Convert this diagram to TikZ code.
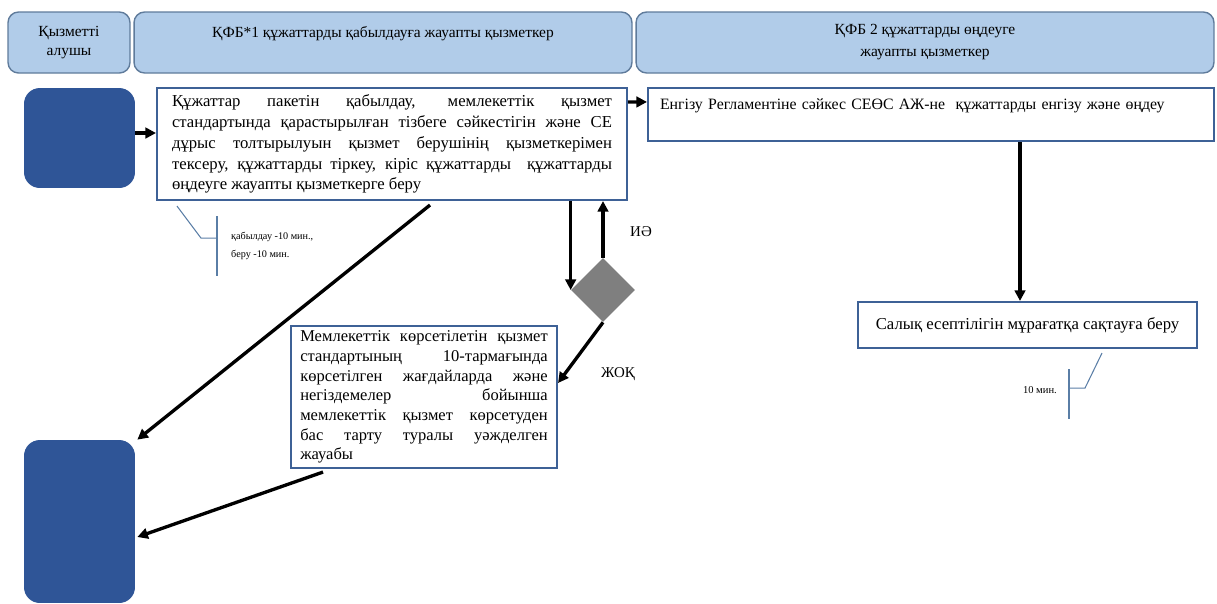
\documentclass[tikz,border=0pt]{standalone}
\usepackage{fontspec}
\setmainfont{Liberation Serif}
\usepackage{tikz}
\usetikzlibrary{positioning,arrows.meta,shapes.geometric}
\definecolor{lanefill}{HTML}{B1CCE9}
\definecolor{laneedge}{HTML}{5F7B9B}
\definecolor{termblue}{HTML}{2F5597}
\definecolor{procedge}{HTML}{3E6196}
\definecolor{noteline}{HTML}{5A7EA6}
\definecolor{decgray}{HTML}{7F7F7F}
\tikzset{
  lane/.style={draw=laneedge, fill=lanefill, rounded corners=6pt, line width=0.8pt, inner sep=0pt, align=center, font=\fontsize{8.8}{10.5}\selectfont},
  term/.style={fill=termblue, rounded corners=9pt, inner sep=0pt},
  proc/.style={draw=procedge, fill=white, line width=1.2pt, inner sep=0pt, font=\fontsize{9.5}{11.9}\selectfont},
  flow/.style={line width=1.9pt, -{Triangle[length=6pt,width=6pt]}},
  note/.style={draw=noteline, line width=0.6pt},
}
\begin{document}
\begin{tikzpicture}[x=0.02cm, y=-0.02cm]
        \useasboundingbox (0,0) rectangle (1217,603);
        \node[lane, minimum width=2.44cm, minimum height=1.22cm] (l1) at (69,42.5) {Қызметті\\алушы};
        \node[lane, minimum width=9.96cm, minimum height=1.22cm] (l2) at (383,42.5) {ҚФБ*1 құжаттарды қабылдауға жауапты қызметкер\\[2pt]\mbox{}};
        \node[lane, minimum width=11.56cm, minimum height=1.22cm, font=\fontsize{8.8}{12.5}\selectfont] (l3) at (925,42.5) {ҚФБ 2 құжаттарды өңдеуге\\жауапты қызметкер};
        \node[term, minimum width=2.22cm, minimum height=2cm] (start) at (79.5,138) {};
        \node[term, minimum width=2.22cm, minimum height=3.26cm] (stop) at (79.5,521.5) {};
        \node[proc, minimum width=9.4cm, minimum height=2.24cm, text width=8.8cm, align=justify] (recv) at (392,144) {\sloppy
          Құжаттар пакетін қабылдау, мемлекеттік қызмет\linebreak
          стандартында қарастырылған тізбеге сәйкестігін және СЕ\linebreak
          дұрыс толтырылуын қызмет берушінің қызметкерімен\linebreak
          тексеру, құжаттарды тіркеу, кіріс құжаттарды \ құжаттарды\linebreak
          өңдеуге жауапты қызметкерге беру};
        \node[proc, minimum width=11.32cm, minimum height=1.06cm, text width=10.84cm, align=left, font=\fontsize{9}{12}\selectfont] (enter) at (931,114.5) {Енгізу Регламентіне сәйкес СЕӨС АЖ-не \ құжаттарды енгізу және өңдеу\\\mbox{}};
        \node[proc, minimum width=6.78cm, minimum height=0.92cm] (archive) at (1027.5,325) {Салық есептілігін мұрағатқа сақтауға беру};
        \node[proc, minimum width=5.32cm, minimum height=2.84cm, text width=4.95cm, align=justify, font=\fontsize{9.4}{11.2}\selectfont] (refuse) at (424,397) {\sloppy
          Мемлекеттік көрсетілетін қызмет\linebreak
          стандартының 10-тармағында\linebreak
          көрсетілген жағдайларда және\linebreak
          негіздемелер бойынша\linebreak
          мемлекеттік қызмет көрсетуден\linebreak
          бас тарту туралы уәжделген\linebreak
          жауабы};
        \node[diamond, fill=decgray, minimum width=1.28cm, minimum height=1.28cm, inner sep=0pt] (dec) at (603,290) {};
        \node[font=\fontsize{8.5}{10}\selectfont] (yes) at (641,232) {ИӘ};
        \node[font=\fontsize{8.5}{10}\selectfont] (no) at (618,374) {ЖОҚ};
        \draw[flow] (start.east |- 0,133) -- (recv.west |- 0,133);
        \draw[flow] ([yshift=-0.3cm]recv.north east) -- ([yshift=-0.3cm]enter.north west);
        \draw[flow] (enter.south -| 1020,0) -- (archive.north -| 1020,0);
        \draw[flow] (recv.south -| dec.west) -- (dec.west);
        \draw[flow] (dec.north) -- (dec.north |- recv.south);
        \draw[flow] (dec.south) -- ([yshift=0.28cm]refuse.east);
        \draw[flow] ([shift={(0.76cm,-0.08cm)}]recv.south) -- ([xshift=0.04cm]stop.north east);
        \draw[flow] ([shift={(-2.02cm,-0.06cm)}]refuse.south) -- ([shift={(0.04cm,-0.31cm)}]stop.east);
        \draw[note] ([shift={(21,5)}]recv.south west) -- ++(24,32) -- ++(16,0);
        \draw[note] ([shift={(61,15)}]recv.south west) -- ++(0,60);
        \node[anchor=west, align=left, font=\fontsize{5.8}{10.5}\selectfont] (t1) at (225,246) {қабылдау -10 мин.,\\беру -10 мин.};
        \draw[note] ([shift={(74.5,4)}]archive.south) -- ++(-17,35) -- ++(-16,0);
        \draw[note] ([shift={(41.5,20)}]archive.south) -- ++(0,50);
        \node[anchor=east, font=\fontsize{6}{8}\selectfont] (t2) at (1063,390) {10 мин.};
      \end{tikzpicture}
\end{document}
